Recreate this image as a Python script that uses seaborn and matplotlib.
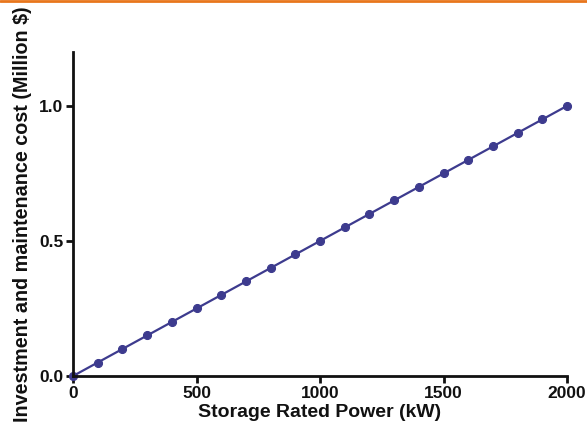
import numpy as np
import pandas as pd
import seaborn as sns
import matplotlib.pyplot as plt
from matplotlib.lines import Line2D

# veri
power_kw = [0, 100, 200, 300, 400, 500, 600, 700, 800, 900, 1000,
            1100, 1200, 1300, 1400, 1500, 1600, 1700, 1800, 1900, 2000]
cost_musd = [0.00, 0.05, 0.10, 0.15, 0.20, 0.25, 0.30, 0.35, 0.40, 0.45, 0.50,
             0.55, 0.60, 0.65, 0.70, 0.75, 0.80, 0.85, 0.90, 0.95, 1.00]
x_ticks = [0, 500, 1000, 1500, 2000]
y_ticks = [0.0, 0.5, 1.0]
y_tick_labels = ["0.0", "0.5", "1.0"]

df = pd.DataFrame({"power": power_kw, "cost": cost_musd})

sns.set_style("ticks")
plt.rcParams['font.family'] = ['Liberation Sans', 'DejaVu Sans']

fig = plt.figure(figsize=(5.87, 4.36), dpi=100)
ax = fig.add_axes([0.1244, 0.1376, 0.8416, 0.7434])

line_color = "#3d3b8e"
sns.lineplot(data=df, x="power", y="cost", ax=ax, color=line_color,
             linewidth=1.6, marker="o", markersize=5.8,
             markeredgecolor=line_color, clip_on=False)

ax.set_xlim(0, 2000)
ax.set_ylim(0, 1.2)
ax.set_xticks(x_ticks)
ax.set_yticks(y_ticks)
ax.set_yticklabels(y_tick_labels)

for side in ["top", "right"]:
    ax.spines[side].set_visible(False)
for side in ["left", "bottom"]:
    ax.spines[side].set_linewidth(2)
    ax.spines[side].set_color("#111111")

ax.tick_params(axis="both", direction="out", length=5, width=2,
               labelsize=12.5, colors="#111111", pad=2)
for lab in ax.get_xticklabels() + ax.get_yticklabels():
    lab.set_fontweight("bold")

ax.set_xlabel("Storage Rated Power (kW)", fontsize=14, fontweight="bold",
              color="#111111", labelpad=2)
ax.set_ylabel("Investment and maintenance cost (Million $)", fontsize=14.2,
              fontweight="bold", color="#111111", labelpad=5)

# üstteki turuncu çizgi
fig.add_artist(Line2D([0, 1], [0.997, 0.997], transform=fig.transFigure,
                      color="#e8761c", linewidth=2))

fig.savefig("out.png", dpi=100)
